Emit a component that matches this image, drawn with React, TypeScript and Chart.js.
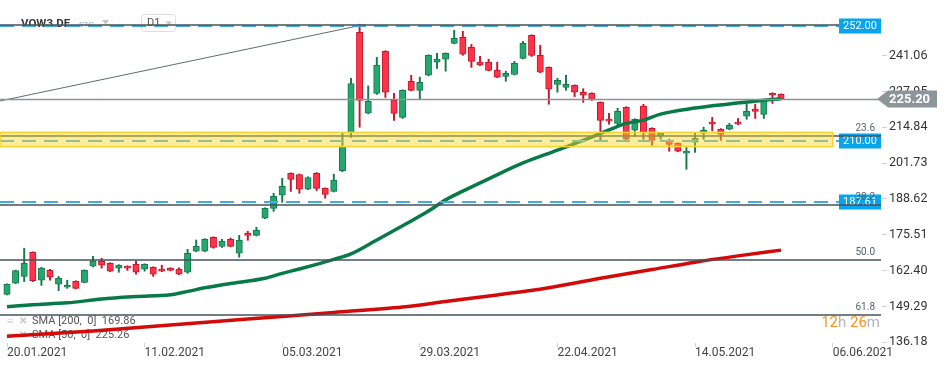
import React, { useEffect, useRef } from "react";
import { Chart, registerables } from "chart.js";

Chart.register(...registerables);

// ---------- data ----------
const tickDates = ["20.01.2021", "11.02.2021", "05.03.2021", "29.03.2021", "22.04.2021", "14.05.2021", "06.06.2021"];
const tickIndex = [0, 16, 32, 48, 64, 80, 96];
const yTickValues = [136.18, 149.29, 162.4, 175.51, 188.62, 201.73, 214.84, 227.95, 241.06];

const opens = [
  153.7, 157.8, 160.3, 169.1, 158.9, 162.5, 157.4, 156.3, 158.5, 158.1,
  164.0, 165.9, 165.1, 163.3, 164.0, 164.7, 162.9, 163.6, 162.9, 163.3,
  163.0, 161.8, 169.5, 169.5, 174.6, 171.3, 173.9, 168.8, 176.1, 175.3,
  181.6, 185.2, 190.0, 198.0, 197.6, 192.2, 198.0, 192.5, 191.4, 199.0,
  212.9, 249.6, 220.0, 227.3, 242.7, 224.7, 218.5, 231.7, 228.4, 233.9,
  238.7, 239.8, 245.6, 247.8, 244.1, 238.7, 238.7, 235.7, 233.5, 234.2,
  240.1, 248.5, 241.2, 236.8, 230.6, 229.5, 230.2, 227.7, 227.3, 224.0,
  217.8, 216.3, 222.2, 213.8, 222.6, 214.5, 211.6, 210.1, 209.0, 205.4,
  209.4, 212.7, 216.7, 214.2, 214.2, 216.7, 218.9, 221.5, 219.6, 227.3, 226.9,
];
const highs = [
  157.6, 162.6, 170.6, 169.3, 163.6, 162.9, 160.3, 158.9, 158.7, 162.7,
  167.6, 166.9, 165.3, 164.6, 164.2, 165.9, 164.9, 163.8, 164.4, 163.5,
  163.4, 170.2, 173.6, 174.1, 174.8, 173.9, 174.3, 175.3, 176.8, 178.3,
  185.4, 190.7, 196.2, 198.2, 197.8, 196.7, 198.3, 192.7, 197.7, 212.7,
  232.8, 252.6, 230.0, 240.5, 242.9, 227.3, 228.6, 233.9, 233.2, 241.4,
  241.9, 242.1, 250.4, 250.0, 245.2, 240.8, 239.8, 238.7, 235.4, 239.0,
  246.3, 248.7, 244.9, 237.0, 232.8, 233.9, 230.4, 229.0, 227.5, 224.2,
  220.0, 221.8, 222.4, 218.0, 223.3, 214.7, 212.9, 210.5, 209.2, 207.5,
  212.7, 214.9, 218.5, 214.4, 216.3, 218.1, 223.3, 223.3, 224.9, 227.5, 227.1,
];
const lows = [
  153.5, 157.6, 158.4, 158.4, 157.0, 158.9, 155.1, 155.9, 155.7, 157.9,
  163.8, 163.3, 162.0, 161.8, 162.5, 161.1, 162.2, 160.3, 162.0, 162.3,
  160.9, 161.4, 169.3, 169.3, 170.6, 170.9, 171.1, 167.3, 173.5, 175.1,
  181.4, 184.1, 187.4, 191.4, 190.7, 192.0, 191.7, 188.9, 191.2, 198.6,
  211.2, 214.9, 219.8, 226.9, 225.8, 217.4, 218.1, 228.2, 225.1, 233.7,
  236.4, 235.4, 245.4, 241.2, 236.8, 237.4, 235.5, 233.0, 231.7, 234.0,
  239.9, 240.8, 234.8, 223.3, 227.7, 228.4, 226.1, 224.0, 224.7, 209.7,
  216.0, 215.6, 209.7, 211.6, 210.5, 208.3, 210.5, 206.1, 205.9, 199.5,
  205.7, 210.5, 213.6, 210.1, 214.0, 215.8, 217.8, 218.1, 218.1, 223.6, 225.0,
];
const closes = [
  157.4, 162.4, 165.1, 158.7, 163.3, 160.0, 159.6, 157.0, 155.9, 162.5,
  165.9, 164.4, 162.2, 164.4, 163.3, 161.8, 164.7, 161.1, 162.2, 162.5,
  161.1, 168.7, 171.3, 173.9, 170.9, 173.1, 171.3, 173.5, 175.3, 177.2,
  185.2, 189.6, 193.3, 195.8, 192.2, 196.5, 192.5, 190.3, 195.5, 207.9,
  230.9, 224.7, 224.4, 237.6, 227.7, 219.9, 228.4, 228.4, 231.3, 241.2,
  239.8, 241.9, 247.4, 241.6, 239.0, 237.6, 235.7, 233.2, 234.6, 238.3,
  245.6, 241.2, 235.0, 228.8, 232.1, 230.6, 227.7, 226.6, 225.1, 217.4,
  217.1, 220.7, 210.5, 217.8, 213.0, 210.1, 212.7, 208.6, 206.1, 206.1,
  210.8, 213.8, 216.0, 212.3, 215.6, 216.0, 220.7, 220.7, 224.7, 226.6, 225.2,
];

const sma50Idx = [0, 3, 7, 11, 15, 19, 21, 23, 26, 30, 32, 34, 36, 38, 40, 43, 47, 49, 51, 53, 56, 60, 64, 66, 68, 70, 72, 74, 76, 80, 84, 88, 90];
const sma50Val = [149.2, 149.9, 150.6, 152.0, 152.9, 153.6, 154.8, 156.1, 157.7, 159.6, 161.4, 163.0, 164.7, 166.5, 168.5, 173.6, 180.6, 184.2, 188.3, 191.5, 196.0, 201.8, 206.5, 208.9, 211.3, 213.9, 216.3, 217.5, 219.7, 221.9, 223.4, 224.8, 225.3];
const sma200Idx = [0, 10, 19, 28, 38, 46, 51, 57, 63, 69, 75, 80, 85, 90];
const sma200Val = [138.4, 140.3, 142.5, 144.7, 147.1, 149.1, 151.1, 153.5, 156.1, 159.6, 162.8, 165.5, 167.8, 169.9];

const trendIdx = [-0.81, 41.6];
const trendVal = [224.5, 252.5];

const blueLevels = [252.0, 210.0, 187.61];
const fibTop = 252.3;
const fibNames = ["23.6", "38.2", "50.0", "61.8"];
const fibPrices = [211.7, 186.6, 166.3, 146.0];
const bandLow = 207.8;
const bandHigh = 213.0;
const bandEndIdx = 96;
const lastPrice = 225.2;
const legendRows = ["SMA [200,  0]  169.86", "SMA [50,  0]  225.26"];
const symbolName = "VOW3.DE";
const timeframe = "D1";
const countdown = ["12", "h ", "26", "m"];

// ---------- config ----------
const Y_MIN = 135.91;
const Y_MAX = 261.46;
const X_MIN = -0.814;
const X_MAX = 101.74;
const FONT = "Roboto";
const UP_FILL = "#25a86d";
const UP_EDGE = "#17784b";
const DN_FILL = "#ff3349";
const DN_EDGE = "#c3172d";

const overlayPlugin = {
  id: "overlay",
  beforeDatasetsDraw(chart: any) {
    const { ctx } = chart;
    ctx.save();
    ctx.textBaseline = "middle";
    ctx.textAlign = "left";
    ctx.fillStyle = "#3a3a3a";
    ctx.font = `bold 11.5px ${FONT}`;
    ctx.fillText(symbolName, 21, 24);
    ctx.fillStyle = "#9aabb6";
    ctx.font = `8px ${FONT}`;
    ctx.fillText("STC", 79, 25);
    ctx.fillStyle = "#c4c4c4";
    ctx.beginPath();
    ctx.moveTo(102, 20);
    ctx.lineTo(109, 20);
    ctx.lineTo(105.5, 24.5);
    ctx.closePath();
    ctx.fill();
    ctx.strokeStyle = "#dedede";
    ctx.lineWidth = 1;
    ctx.beginPath();
    (ctx as any).roundRect(141.5, 14.5, 34, 17, 3);
    ctx.stroke();
    ctx.fillStyle = "#555";
    ctx.font = `11px ${FONT}`;
    ctx.fillText(timeframe, 147, 23.5);
    ctx.fillStyle = "#c4c4c4";
    ctx.beginPath();
    ctx.moveTo(165.5, 21.5);
    ctx.lineTo(172, 21.5);
    ctx.lineTo(168.75, 25);
    ctx.closePath();
    ctx.fill();
    legendRows.forEach((t, i) => {
      const cy = 321.5 + i * 14;
      ctx.fillStyle = "#c2c2c2";
      ctx.font = `12px ${FONT}`;
      ctx.fillText("\u2261", 7, cy);
      ctx.font = `bold 10px ${FONT}`;
      ctx.fillText("\u2715", 19, cy);
      ctx.fillStyle = "#555";
      ctx.font = `11px ${FONT}`;
      ctx.fillText(t, 32, cy);
    });
    ctx.restore();
  },
  afterDatasetsDraw(chart: any) {
    const { ctx, chartArea: ca, scales } = chart;
    const x = scales.x;
    const y = scales.y;
    const L = ca.left;
    const R = ca.right;
    ctx.save();
    // blue dashed levels
    ctx.setLineDash([14, 8]);
    ctx.strokeStyle = "#45abe5";
    ctx.lineWidth = 2;
    blueLevels.forEach((v) => {
      const py = Math.round(y.getPixelForValue(v));
      ctx.beginPath();
      ctx.moveTo(L, py);
      ctx.lineTo(R - 43, py);
      ctx.stroke();
    });
    ctx.setLineDash([]);
    // current price line
    const pp = Math.round(y.getPixelForValue(lastPrice)) + 0.5;
    ctx.strokeStyle = "#8a9397";
    ctx.lineWidth = 1.5;
    ctx.beginPath();
    ctx.moveTo(L, pp);
    ctx.lineTo(R, pp);
    ctx.stroke();
    // fib top line (stops at the price box)
    ctx.strokeStyle = "#45525b";
    ctx.lineWidth = 1.5;
    const ft = Math.round(y.getPixelForValue(fibTop));
    ctx.beginPath();
    ctx.moveTo(L, ft);
    ctx.lineTo(R - 43, ft);
    ctx.stroke();
    // blue boxes
    ctx.font = `11px ${FONT}`;
    ctx.textAlign = "center";
    ctx.textBaseline = "middle";
    blueLevels.forEach((v) => {
      const py = Math.round(y.getPixelForValue(v));
      ctx.fillStyle = "#08a5ee";
      ctx.fillRect(R - 43, py - 7.5, 42, 15);
      ctx.fillStyle = "#ffffff";
      ctx.fillText(v.toFixed(2), R - 22, py + 0.5);
    });
    // fib lines
    ctx.strokeStyle = "#45525b";
    ctx.lineWidth = 1.5;
    fibPrices.forEach((v) => {
      const py = Math.round(y.getPixelForValue(v));
      ctx.beginPath();
      ctx.moveTo(L, py);
      ctx.lineTo(R - 1, py);
      ctx.stroke();
    });
    ctx.fillStyle = "#56616a";
    ctx.font = `10px ${FONT}`;
    ctx.textAlign = "right";
    ctx.textBaseline = "alphabetic";
    fibNames.forEach((n, i) => {
      const py = Math.round(y.getPixelForValue(fibPrices[i]));
      ctx.fillText(n, R - 7, py - 5);
    });
    // band
    const bTop = y.getPixelForValue(bandHigh);
    const bBot = y.getPixelForValue(bandLow);
    const bRight = x.getPixelForValue(bandEndIdx);
    ctx.fillStyle = "rgba(250, 212, 30, 0.45)";
    ctx.fillRect(L, bTop, bRight - L, bBot - bTop);
    ctx.strokeStyle = "#f5d22e";
    ctx.lineWidth = 1.5;
    ctx.strokeRect(L, bTop, bRight - L, bBot - bTop);
    // price arrow box
    const cy = y.getPixelForValue(lastPrice);
    ctx.fillStyle = "#8c969a";
    ctx.beginPath();
    ctx.moveTo(R - 5, cy);
    ctx.lineTo(R + 6, cy - 8.5);
    ctx.lineTo(R + 55, cy - 8.5);
    ctx.lineTo(R + 55, cy + 8.5);
    ctx.lineTo(R + 6, cy + 8.5);
    ctx.closePath();
    ctx.fill();
    ctx.fillStyle = "#ffffff";
    ctx.font = `bold 13px ${FONT}`;
    ctx.textAlign = "left";
    ctx.textBaseline = "middle";
    ctx.fillText(lastPrice.toFixed(2), R + 7, cy + 0.5);
    // countdown
    ctx.font = `15px ${FONT}`;
    let total = 0;
    countdown.forEach((s) => (total += ctx.measureText(s).width));
    let cx = R - 2 - total;
    countdown.forEach((s, i) => {
      ctx.fillStyle = i % 2 === 0 ? "#f7941d" : "#b4b4b4";
      ctx.fillText(s, cx, 323.5);
      cx += ctx.measureText(s).width;
    });
    ctx.restore();
  },
};

export default function App() {
  const ref = useRef<HTMLCanvasElement | null>(null);
  useEffect(() => {
    document.body.style.margin = "0";
    const canvas = ref.current;
    if (!canvas) return;
    const up = opens.map((o, i) => closes[i] >= o);
    const chart = new Chart(canvas, {
      type: "bar",
      data: {
        datasets: [
          {
            type: "line",
            data: sma50Idx.map((v, i) => ({ x: v, y: sma50Val[i] })),
            borderColor: "#087a48",
            borderWidth: 3.5,
            pointRadius: 0,
            cubicInterpolationMode: "monotone",
            order: 0,
          } as any,
          {
            type: "line",
            data: sma200Idx.map((v, i) => ({ x: v, y: sma200Val[i] })),
            borderColor: "#d30a0a",
            borderWidth: 3.5,
            pointRadius: 0,
            cubicInterpolationMode: "monotone",
            order: 0,
          } as any,
          {
            type: "line",
            data: trendIdx.map((v, i) => ({ x: v, y: trendVal[i] })),
            borderColor: "#5d6d78",
            borderWidth: 1,
            pointRadius: 0,
            order: 0,
          } as any,
          {
            type: "bar",
            data: opens.map((o, i) => ({ x: i, y: [o, closes[i]] })),
            backgroundColor: up.map((u) => (u ? UP_FILL : DN_FILL)),
            borderColor: up.map((u) => (u ? UP_EDGE : DN_EDGE)),
            borderWidth: 1,
            borderSkipped: false,
            barThickness: 6.4,
            minBarLength: 2,
            grouped: false,
            order: 1,
          } as any,
          {
            type: "bar",
            data: lows.map((l, i) => ({ x: i, y: [l, highs[i]] })),
            backgroundColor: up.map((u) => (u ? UP_EDGE : DN_EDGE)),
            borderWidth: 0,
            barThickness: 1.3,
            grouped: false,
            order: 2,
          } as any,
        ],
      },
      options: {
        animation: false,
        responsive: false,
        maintainAspectRatio: false,
        devicePixelRatio: 1,
        layout: { padding: 0 },
        plugins: { legend: { display: false }, tooltip: { enabled: false } },
        scales: {
          x: {
            type: "linear",
            min: X_MIN,
            max: X_MAX,
            offset: false,
            afterBuildTicks: (s: any) => {
              s.ticks = tickIndex.map((v) => ({ value: v }));
            },
            afterFit: (s: any) => {
              s.height = 25;
              s.paddingLeft = 0;
              s.paddingRight = 0;
            },
            grid: { drawOnChartArea: false, offset: false, tickLength: 4, tickColor: "#d2d2d2" },
            border: { display: false },
            ticks: {
              align: "start",
              maxRotation: 0,
              autoSkip: false,
              padding: -1,
              color: "#444",
              font: { family: FONT, size: 12 },
              callback: (_v: any, i: number) => tickDates[i],
            },
          },
          y: {
            position: "right",
            min: Y_MIN,
            max: Y_MAX,
            afterBuildTicks: (s: any) => {
              s.ticks = yTickValues.map((v) => ({ value: v }));
            },
            afterFit: (s: any) => {
              s.width = 68;
              s.paddingTop = 0;
              s.paddingBottom = 0;
            },
            grid: { drawOnChartArea: false, tickLength: 5, tickColor: "#d2d2d2" },
            border: { display: false },
            ticks: {
              padding: 2,
              color: "#333",
              font: { family: FONT, size: 12.5 },
              callback: (v: any) => Number(v).toFixed(2),
            },
          },
        },
      } as any,
      plugins: [overlayPlugin],
    });
    return () => chart.destroy();
  }, []);
  return (
    <div style={{ position: "absolute", left: 0, top: 0, width: 950, height: 368, background: "#fff" }}>
      <canvas ref={ref} width={950} height={368} style={{ width: 950, height: 368, display: "block" }} />
    </div>
  );
}
